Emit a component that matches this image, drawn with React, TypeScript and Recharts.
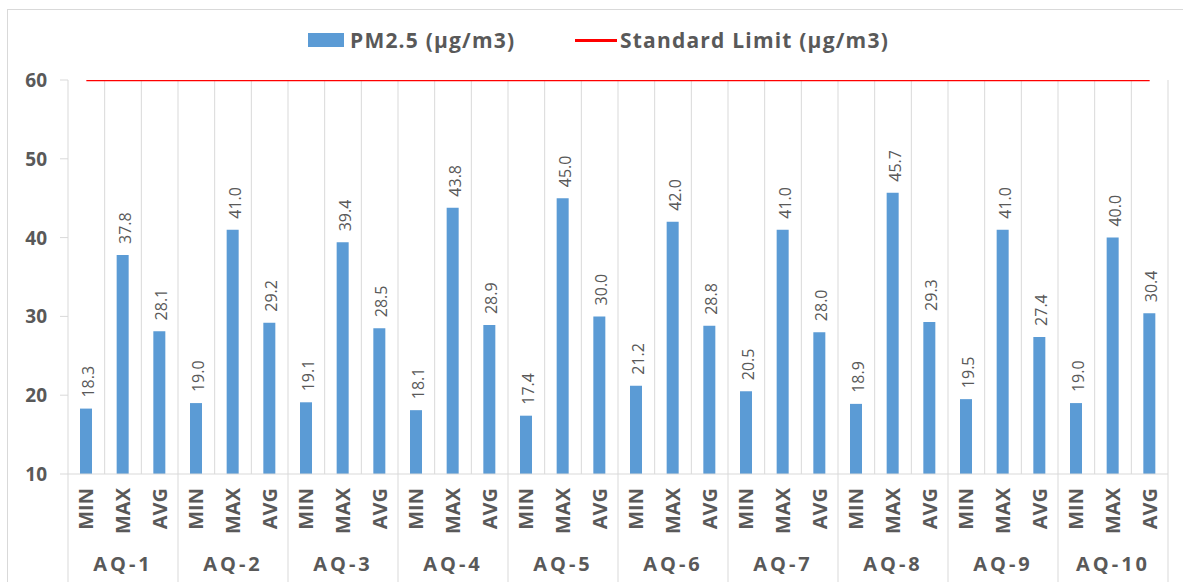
import React from 'react';
import { ComposedChart, Bar, Line, XAxis, YAxis, CartesianGrid, Legend, LabelList } from 'recharts';

// Monitoring stations and the three statistics shown for each
const stations = ['AQ-1', 'AQ-2', 'AQ-3', 'AQ-4', 'AQ-5', 'AQ-6', 'AQ-7', 'AQ-8', 'AQ-9', 'AQ-10'];
const stats = ['MIN', 'MAX', 'AVG'];

// PM2.5 readings (µg/m3), MIN / MAX / AVG per station
const pmMin = [18.3, 19.0, 19.1, 18.1, 17.4, 21.2, 20.5, 18.9, 19.5, 19.0];
const pmMax = [37.8, 41.0, 39.4, 43.8, 45.0, 42.0, 41.0, 45.7, 41.0, 40.0];
const pmAvg = [28.1, 29.2, 28.5, 28.9, 30.0, 28.8, 28.0, 29.3, 27.4, 30.4];

const standardLimit = 60;
const yTicks = [10, 20, 30, 40, 50, 60];

const data = stations.flatMap((st, i) =>
  [pmMin[i], pmMax[i], pmAvg[i]].map((v, j) => ({
    key: `${st} ${stats[j]}`,
    stat: stats[j],
    station: st,
    pm: v,
    limit: standardLimit,
  }))
);

const WIDTH = 1183;
const HEIGHT = 582;
const MARGIN = { top: 30, right: 15, left: 8, bottom: 8 };
const Y_AXIS_W = 60;
const PLOT_W = WIDTH - MARGIN.left - MARGIN.right - Y_AXIS_W;
const STEP = PLOT_W / data.length;

const TEXT = '#595959';
const GRID = '#d9d9d9';
const BLUE = '#5b9bd5';
const RED = '#ff0000';
const FONT = '"Open Sans", Lato, sans-serif';

const CategoryTick = (props: any) => {
  const { x, y, index } = props;
  const row = data[index];
  if (!row) return null;
  const pos = index % 3;
  return (
    <g>
      <text
        x={x + 7}
        y={y + 14}
        transform={`rotate(-90, ${x + 7}, ${y + 14})`}
        textAnchor="end"
        fill={TEXT}
        fontSize={20}
        fontWeight={700}
        fontFamily={FONT}
      >
        {row.stat}
      </text>
      {pos === 0 && <line x1={x - STEP / 2} x2={x - STEP / 2} y1={y} y2={y + 108} stroke={GRID} />}
      {index === data.length - 1 && <line x1={x + STEP / 2} x2={x + STEP / 2} y1={y} y2={y + 108} stroke={GRID} />}
      {pos === 1 && (
        <text x={x} y={y + 97} textAnchor="middle" fill={TEXT} fontSize={20} fontWeight={700} letterSpacing={3} fontFamily={FONT}>
          {row.station}
        </text>
      )}
    </g>
  );
};

const ValueTick = (props: any) => {
  const { x, y, payload } = props;
  return (
    <text x={x - 11} y={y + 7} textAnchor="end" fill={TEXT} fontSize={19} fontWeight={700} fontFamily={FONT}>
      {payload.value}
    </text>
  );
};

const BarValue = (props: any) => {
  const { x, y, width, value } = props;
  const tx = x + width / 2 + 8;
  const ty = y - 11;
  return (
    <text x={tx} y={ty} transform={`rotate(-90, ${tx}, ${ty})`} textAnchor="start" fill={TEXT} fontSize={16} fontFamily={FONT}>
      {Number(value).toFixed(1)}
    </text>
  );
};

const LegendContent = () => (
  <div style={{ position: 'relative', height: 50, fontFamily: FONT, fontWeight: 700, fontSize: 21, letterSpacing: 1.2, color: TEXT, lineHeight: '28px' }}>
    <div style={{ position: 'absolute', left: 300, top: 3, width: 36, height: 14, background: BLUE }} />
    <div style={{ position: 'absolute', left: 342, top: -4, whiteSpace: 'nowrap' }}>PM2.5 (µg/m3)</div>
    <div style={{ position: 'absolute', left: 567, top: 9, width: 42, height: 3, background: RED }} />
    <div style={{ position: 'absolute', left: 612, top: -4, whiteSpace: 'nowrap' }}>Standard Limit (µg/m3)</div>
  </div>
);

const App: React.FC = () => {
  return (
    <div style={{ position: 'absolute', left: 0, top: 0, width: WIDTH, height: HEIGHT, background: '#fff', overflow: 'hidden' }}>
      <div style={{ position: 'absolute', left: 7, top: 9, width: WIDTH, height: HEIGHT, borderLeft: `1px solid ${GRID}`, borderTop: `1px solid ${GRID}` }} />
      <div style={{ position: 'absolute', left: 0, top: 0 }}>
        <ComposedChart width={WIDTH} height={HEIGHT} data={data} margin={MARGIN}>
          <CartesianGrid
            horizontal={false}
            stroke={GRID}
            verticalCoordinatesGenerator={({ offset }: any) =>
              Array.from({ length: data.length }, (_, i) => offset.left + (i + 1) * (offset.width / data.length))
            }
          />
          <Legend verticalAlign="top" align="left" height={50} content={<LegendContent />} />
          <XAxis
            dataKey="key"
            interval={0}
            height={100}
            tickSize={0}
            tickMargin={0}
            tickLine={false}
            axisLine={{ stroke: GRID }}
            tick={<CategoryTick />}
          />
          <YAxis
            width={Y_AXIS_W}
            domain={[10, 60]}
            ticks={yTicks}
            allowDataOverflow
            axisLine={{ stroke: GRID }}
            tickLine={{ stroke: GRID }}
            tickSize={8}
            tick={<ValueTick />}
          />
          <Bar dataKey="pm" name="PM2.5 (µg/m3)" fill={BLUE} barSize={12} isAnimationActive={false}>
            <LabelList dataKey="pm" content={<BarValue />} />
          </Bar>
          <Line
            dataKey="limit"
            name="Standard Limit (µg/m3)"
            type="linear"
            stroke={RED}
            strokeWidth={2.5}
            dot={false}
            activeDot={false}
            isAnimationActive={false}
          />
        </ComposedChart>
      </div>
    </div>
  );
};

export default App;
